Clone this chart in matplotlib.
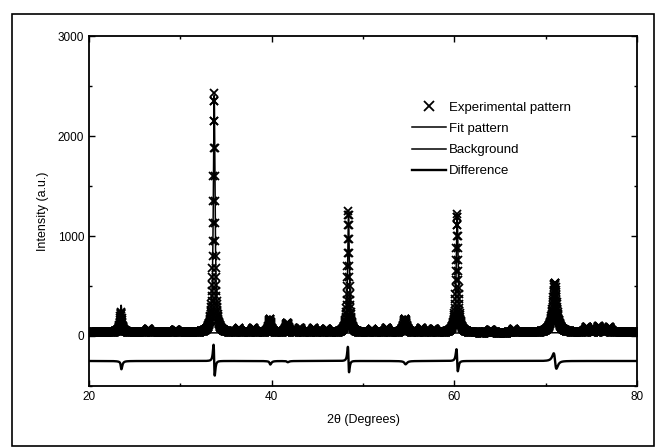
import numpy as np
import matplotlib.pyplot as plt
from matplotlib.patches import Rectangle
from matplotlib.ticker import MultipleLocator

plt.rcParams.update({'font.family': ['Liberation Sans', 'DejaVu Sans'], 'font.size': 8.5})

# Reflections: position (deg), height above background, FWHM (deg)
peak_pos = [23.5, 33.7, 39.8, 41.7, 48.4, 54.6, 60.3, 71.0]
peak_obs_height = [200, 2400, 140, 100, 1220, 140, 1190, 500]
peak_fwhm = [0.25, 0.22, 0.30, 0.35, 0.22, 0.40, 0.25, 0.50]
# calculated (fit) pattern: slightly different heights / positions
peak_fit_height = [270, 2390, 170, 110, 1200, 170, 1180, 500]
peak_fit_shift = [0.02, 0.011, 0.015, 0.01, 0.018, 0.015, 0.018, 0.06]

# weak bumps in the background
bump_pos = [26.5, 29.5, 36.4, 38.0, 43.1, 44.6, 46.0, 51.0, 52.6, 56.4, 57.8, 64.0, 66.5, 74.5, 75.8, 77.0]
bump_height = [35, 30, 40, 45, 50, 45, 40, 35, 50, 45, 40, 30, 35, 55, 60, 50]

bg_pos = [20, 30, 40, 50, 60, 70, 80]
bg_level = [40, 32, 30, 30, 30, 32, 38]

diff_offset = -250
two_theta = np.arange(20, 80.001, 0.02)


def profile(pos, heights, widths, shifts=None):
    y = np.zeros_like(two_theta)
    for i, (p, h, w) in enumerate(zip(pos, heights, widths)):
        s = 0 if shifts is None else shifts[i]
        y += h / (1 + (2 * (two_theta - p - s) / w) ** 2)
    return y


background = np.interp(two_theta, bg_pos, bg_level)
bumps = profile(bump_pos, bump_height, [0.3] * len(bump_pos))
observed = background + bumps + profile(peak_pos, peak_obs_height, peak_fwhm)
fitted = background + bumps + profile(peak_pos, peak_fit_height, peak_fwhm, peak_fit_shift)
difference = observed - fitted + diff_offset

fig = plt.figure(figsize=(6.59, 4.48), dpi=100)
ax = fig.add_axes([0.1350, 0.1384, 0.8316, 0.7812])

ax.plot(two_theta, observed, ls='none', marker='x', ms=6, mew=1.3, color='black',
        label='Experimental pattern')
ax.plot(two_theta, fitted, color='black', lw=1.1, label='Fit pattern')
ax.plot(bg_pos, bg_level, color='black', lw=1.1, label='Background')
ax.plot(two_theta, difference, color='black', lw=1.7, label='Difference')

ax.set_xlim(20, 80)
ax.set_ylim(-500, 3000)
ax.xaxis.set_major_locator(MultipleLocator(20))
ax.xaxis.set_minor_locator(MultipleLocator(10))
ax.yaxis.set_major_locator(MultipleLocator(1000))
ax.yaxis.set_minor_locator(MultipleLocator(500))
ax.tick_params(which='both', direction='in', top=True, right=True, width=1.0)
ax.tick_params(which='major', length=4)
ax.tick_params(which='minor', length=2.5)
for sp in ax.spines.values():
    sp.set_linewidth(1.3)

ax.set_xlabel('2θ (Degrees)', fontsize=9, labelpad=8)
ax.set_ylabel('Intensity (a.u.)', fontsize=9, labelpad=6)

ax.legend(loc='upper left', bbox_to_anchor=(0.58, 0.828), borderaxespad=0, frameon=False,
          fontsize=9.5, handlelength=2.6, handletextpad=0.2, labelspacing=0.68,
          markerscale=1.15)

# scanned page frame
fig.patches.append(Rectangle((12 / 659, 1 - 446 / 448), 642 / 659, 432 / 448,
                             transform=fig.transFigure, fill=False, lw=1.2, ec='black'))

fig.savefig('out.png', dpi=100)
